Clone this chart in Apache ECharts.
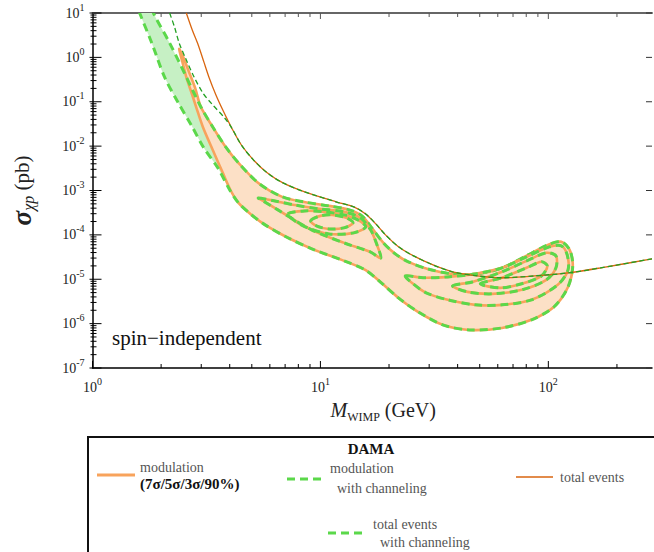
<!DOCTYPE html>
<html>
<head>
<meta charset="utf-8">
<script src="https://cdn.jsdelivr.net/npm/echarts@6/dist/echarts.min.js"></script>
<style>
html,body{margin:0;padding:0;background:#fff;}
#main{width:654px;height:552px;}
</style>
</head>
<body>
<div id="main"></div>
<script>
// all points are [M_WIMP (GeV), sigma_xp (pb)]
// modulation with channeling, 7 sigma: left edge, top -> bottom
var chanLeft = [[1.53,20],[1.61,10],[1.82,2.11],[2.07,0.362],[2.38,0.094],[2.71,0.030],[3.08,0.0091],[3.55,0.00323],[4.0,0.00103]];
// channeling band, right edge going up
var chanRight = [[3.37,0.027],[2.99,0.076],[2.58,0.362],[2.18,2.11],[1.85,10],[1.77,20]];
// modulation (no channeling) 7 sigma tip: left edge down, right edge up
var peachLeft = [[2.40,1.55],[2.48,0.79],[2.58,0.36],[2.74,0.142],[2.85,0.076],[3.05,0.027],[3.37,8.2e-3],[3.73,2.5e-3],[4.04,1.0e-3]];
var peachRight = [[3.37,0.027],[2.99,0.076],[2.82,0.205],[2.63,0.52],[2.50,1.02]];
// common 7 sigma banana: lower edge left -> right, upper edge right -> left
var bandLower = [[4.37,5.26e-4],[4.93,2.97e-4],[5.72,1.68e-4],[7.2,8.6e-5],[9.4,4.6e-5],[12.7,2.6e-5],[15.8,1.6e-5],[18.5,8.3e-6],[22,3.8e-6],[26.8,1.85e-6],[34.4,9.4e-7],[45,7.2e-7],[62.6,8.0e-7],[84.4,1.22e-6],[106,2.4e-6],[122,6.7e-6],[128,2.0e-5],[124,4.6e-5],[114,7.0e-5]];
var bandUpper = [[100,6.0e-5],[80.3,3.4e-5],[62.6,1.8e-5],[48.8,1.32e-5],[38,1.32e-5],[29.6,1.71e-5],[24.3,2.47e-5],[21.3,3.73e-5],[18.9,6.6e-5],[16.8,1.44e-4],[15.2,2.68e-4],[13.4,3.66e-4],[10.9,4.5e-4],[8.5,5.5e-4],[6.8,7.2e-4],[5.34,1.48e-3],[4.37,4.2e-3],[3.84,9.6e-3]];
// inner contours (5 sigma / 3 sigma / 90%), low-mass island
var contA = [[5.34,6.8e-4],[6.32,5.8e-4],[7.72,4.7e-4],[9.9,3.85e-4],[12.7,3.3e-4],[15.0,2.4e-4],[16.6,1.3e-4],[17.7,6.0e-5],[18.4,3.0e-5],[16.6,4.1e-5],[12.7,6.6e-5],[9.14,1.3e-4],[6.51,3.66e-4],[5.61,5.8e-4]];
var contB = [[7.2,2.97e-4],[8.53,3.47e-4],[10.4,3.3e-4],[12.7,2.82e-4],[14.6,2.18e-4],[15.8,1.51e-4],[14.0,1.11e-4],[10.9,1.05e-4],[8.79,1.44e-4],[7.72,2.07e-4]];
var contC = [[9.06,2.07e-4],[10,2.68e-4],[11.3,2.82e-4],[13.0,2.42e-4],[13.9,1.86e-4],[12.7,1.44e-4],[10.9,1.36e-4],[9.6,1.6e-4]];
// high-mass island
var contD = [[23.6,1.19e-5],[28.2,1.08e-5],[36.2,1.13e-5],[47.8,1.32e-5],[62.6,1.81e-5],[80.3,3.2e-5],[101,5.37e-5],[114,5.65e-5],[121,3.55e-5],[122,1.63e-5],[110,7.5e-6],[84.4,3.44e-6],[62.6,2.65e-6],[47.8,2.65e-6],[36.2,3.44e-6],[29.1,4.94e-6],[25.5,7.9e-6]];
var contE = [[38,7.1e-6],[46.4,8.7e-6],[62.6,1.47e-5],[80.3,2.6e-5],[98,3.94e-5],[108,3.37e-5],[108,1.81e-5],[98,9.7e-6],[76.4,5.77e-6],[56.6,4.69e-6],[44.2,5.2e-6]];
var contF = [[50.3,7.9e-6],[62.6,1.08e-5],[80.3,1.81e-5],[93.3,2.47e-5],[99,2.0e-5],[93.3,1.19e-5],[76.4,7.9e-6],[61.4,6.4e-6]];
// total events (upper bound curve)
var lineTotal = [[2.58,10],[2.74,4.14],[2.91,1.9],[3.08,0.79],[3.24,0.362],[3.48,0.142],[3.73,0.065],[4.08,0.0257],[4.5,0.0106],[5.08,4.9e-3],[5.84,2.5e-3],[6.85,1.48e-3],[8.53,9.3e-4],[11.8,5.5e-4],[14.0,4.27e-4],[15.8,2.97e-4],[17.5,1.77e-4],[19.3,1.0e-4],[22,5.4e-5],[25.5,3.4e-5],[31.2,2.1e-5],[38,1.47e-5],[48.8,1.19e-5],[62.6,1.08e-5],[87,1.19e-5],[122,1.39e-5],[170,1.81e-5],[285,2.88e-5]];
// total events with channeling, until it joins the curve above
var chanTop = [[2.18,10],[2.29,4.84],[2.40,2.11],[2.58,0.874],[2.79,0.362],[3.05,0.158],[3.34,0.089],[3.8,0.043]];

var xMajor = [1, 10, 100];
var yMajor = [1e-7, 1e-6, 1e-5, 1e-4, 1e-3, 1e-2, 1e-1, 1, 10];
var xMax = 285;

var xMinor = [], yMinor = [];
xMajor.forEach(function (d) { for (var k = 2; k < 10; k++) if (k * d <= xMax) xMinor.push(k * d); });
yMajor.slice(0, 8).forEach(function (d) { for (var k = 2; k < 10; k++) yMinor.push(k * d); });

var serif = '"Liberation Serif", "DejaVu Serif", serif';
var cOrange = '#f8a35c', cGreen = '#5bd84a';

var chanPoly = chanLeft.concat(bandLower, bandUpper, chanRight);
var peachPoly = peachLeft.concat(bandLower, bandUpper, peachRight);

function area(pts, style, z) {
  return {
    type: 'custom', coordinateSystem: 'cartesian2d', silent: true, clip: true, z: z,
    data: [pts[0]], encode: { x: 0, y: 1 },
    renderItem: function (params, api) {
      var cs = params.coordSys;
      return {
        type: 'polygon',
        shape: { points: pts.map(function (p) { return api.coord(p); }), smooth: 0.3 },
        style: style,
        clipPath: { type: 'rect', shape: { x: cs.x, y: cs.y, width: cs.width, height: cs.height } }
      };
    }
  };
}

function contour(pts, z) {
  return [
    area(pts, { fill: 'none', stroke: cOrange, lineWidth: 2.6 }, z),
    area(pts, { fill: 'none', stroke: cGreen, lineWidth: 3, lineDash: [8, 5] }, z + 0.1)
  ];
}

function ticks(data, draw, color) {
  return {
    type: 'custom', coordinateSystem: 'cartesian2d', silent: true, clip: false, z: 10,
    data: data, encode: { x: 0, y: 1 },
    renderItem: function (params, api) {
      var c = api.coord([api.value(0), api.value(1)]);
      var s = draw(c);
      return { type: 'line', shape: { x1: s[0], y1: s[1], x2: s[2], y2: s[3] }, style: { stroke: color, lineWidth: 1 } };
    }
  };
}

function expLabel(v) {
  var e = Math.log10(v), r = Math.round(e);
  if (Math.abs(e - r) > 0.01) return '';
  return '{b|10}{e|' + r + '}';
}

var labelRich = {
  b: { fontSize: 14, lineHeight: 22, fontFamily: serif, color: '#222' },
  e: { fontSize: 10, lineHeight: 10, verticalAlign: 'top', fontFamily: serif, color: '#222' }
};

var series = [
  area(chanPoly, { fill: '#c6f0c4' }, 1),
  area(peachPoly, { fill: '#fce0c6' }, 1.5),
  area(peachPoly, { fill: 'none', stroke: cOrange, lineWidth: 2.6 }, 2),
  area(chanPoly, { fill: 'none', stroke: cGreen, lineWidth: 3, lineDash: [8, 5] }, 2.1)
];
[contA, contB, contC, contD, contE, contF].forEach(function (c) { series = series.concat(contour(c, 3)); });

series.push({
  type: 'line', name: 'total events', data: lineTotal, symbol: 'none', smooth: 0.3, clip: true, z: 5,
  lineStyle: { color: '#d9650f', width: 1.3 }, silent: true
});
series.push({
  type: 'line', name: 'total events with channeling', data: chanTop.concat(lineTotal.slice(7)), symbol: 'none', smooth: 0.3, clip: true, z: 6,
  lineStyle: { color: '#22a022', width: 1.3, type: [5, 3] }, silent: true
});

// axis ticks
series.push(ticks(xMajor.map(function (v) { return [v, 1e-7]; }), function (c) { return [c[0], c[1], c[0], c[1] - 7]; }, '#000'));
series.push(ticks(xMinor.map(function (v) { return [v, 1e-7]; }), function (c) { return [c[0], c[1], c[0], c[1] - 4]; }, '#000'));
series.push(ticks(xMajor.map(function (v) { return [v, 10]; }), function (c) { return [c[0], c[1], c[0], c[1] + 6]; }, '#555'));
series.push(ticks(xMinor.map(function (v) { return [v, 10]; }), function (c) { return [c[0], c[1], c[0], c[1] + 4]; }, '#555'));
series.push(ticks(yMajor.map(function (v) { return [1, v]; }), function (c) { return [c[0] - 3, c[1], c[0] + 9, c[1]]; }, '#000'));
series.push(ticks(yMinor.map(function (v) { return [1, v]; }), function (c) { return [c[0] - 2, c[1], c[0] + 4, c[1]]; }, '#000'));
series.push(ticks(yMajor.map(function (v) { return [xMax, v]; }), function (c) { return [c[0] - 6, c[1], c[0], c[1]]; }, '#333'));

var legendText = function (x, y, t, extra) {
  var s = { text: t, x: x, y: y, fill: '#555', font: '14px ' + serif, verticalAlign: 'middle' };
  for (var k in extra) s[k] = extra[k];
  return { type: 'text', style: s, z: 20 };
};

var chart = echarts.init(document.getElementById('main'), null, { renderer: 'svg' });
chart.setOption({
  animation: false,
  grid: { left: 85, right: 2, top: 13, bottom: 184 },
  xAxis: [{
    type: 'log', logBase: 10, min: 1, max: xMax,
    name: '{m|M}{s|WIMP}{g| (GeV)}', nameLocation: 'middle', nameGap: 29,
    nameTextStyle: {
      padding: [0, 0, 0, 22],
      rich: {
        m: { fontFamily: serif, fontStyle: 'italic', fontSize: 20, lineHeight: 26, color: '#222' },
        s: { fontFamily: serif, fontSize: 12, lineHeight: 14, verticalAlign: 'bottom', color: '#222' },
        g: { fontFamily: serif, fontSize: 20, lineHeight: 26, color: '#222' }
      }
    },
    axisLine: { lineStyle: { color: '#000', width: 1.5 } },
    axisTick: { show: false }, splitLine: { show: false },
    axisLabel: { formatter: expLabel, rich: labelRich, margin: 8, showMaxLabel: false }
  }, {
    type: 'log', logBase: 10, min: 1, max: xMax, position: 'top',
    axisLine: { lineStyle: { color: '#666', width: 2 } },
    axisTick: { show: false }, axisLabel: { show: false }, splitLine: { show: false }
  }],
  yAxis: {
    type: 'log', logBase: 10, min: 1e-7, max: 10,
    name: '{s|σ}{c|χp}{p| (pb)}', nameLocation: 'middle', nameRotate: 90, nameGap: 56,
    nameTextStyle: {
      rich: {
        s: { fontFamily: serif, fontStyle: 'italic', fontWeight: 'bold', fontSize: 27, lineHeight: 30, color: '#222' },
        c: { fontFamily: serif, fontStyle: 'italic', fontSize: 16, lineHeight: 16, verticalAlign: 'bottom', color: '#222' },
        p: { fontFamily: serif, fontSize: 21, lineHeight: 30, color: '#222' }
      }
    },
    axisLine: { lineStyle: { color: '#000', width: 1.5 } },
    axisTick: { show: false }, splitLine: { show: false },
    axisLabel: { formatter: expLabel, rich: labelRich, margin: 8 }
  },
  series: series,
  graphic: [
    { type: 'text', left: 112, top: 327, style: { text: 'spin\u2212independent', font: '21px ' + serif, fill: '#111' }, z: 20 },
    { type: 'rect', shape: { x: 88, y: 437, width: 600, height: 140 }, style: { fill: '#fff', stroke: '#111', lineWidth: 2 }, z: 19 },
    legendText(371, 449, 'DAMA', { fill: '#111', font: 'bold 15px ' + serif, align: 'center' }),
    { type: 'line', shape: { x1: 97, y1: 475, x2: 135, y2: 475 }, style: { stroke: cOrange, lineWidth: 3 }, z: 20 },
    legendText(140, 467, 'modulation'),
    legendText(140, 484, '(7σ/5σ/3σ/90%)', { fill: '#111', font: 'bold 15px ' + serif }),
    { type: 'line', shape: { x1: 287, y1: 479, x2: 325, y2: 479 }, style: { stroke: cGreen, lineWidth: 3, lineDash: [8, 5] }, z: 20 },
    legendText(330, 468, 'modulation'),
    legendText(337, 488, 'with channeling'),
    { type: 'line', shape: { x1: 516, y1: 477, x2: 553, y2: 477 }, style: { stroke: '#d9650f', lineWidth: 1.5 }, z: 20 },
    legendText(560, 477, 'total events'),
    { type: 'line', shape: { x1: 328, y1: 533, x2: 367, y2: 533 }, style: { stroke: cGreen, lineWidth: 3, lineDash: [8, 5] }, z: 20 },
    legendText(373, 524, 'total events'),
    legendText(380, 542, 'with channeling')
  ]
});
</script>
</body>
</html>
